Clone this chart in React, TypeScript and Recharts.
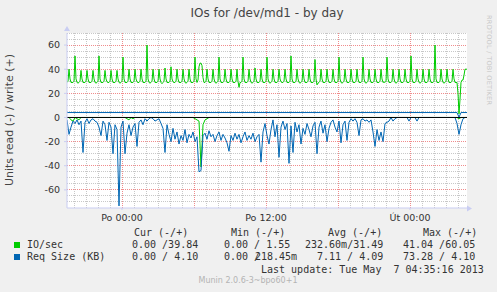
import React from 'react';
import { LineChart, Line, XAxis, YAxis, CartesianGrid, ReferenceLine } from 'recharts';

// time in minutes relative to "Po 00:00"
const START_MIN = -275;
const END_MIN = 1725;
const STEP_FINE = 5; // IO/sec write samples
const STEP_COARSE = 10; // other series samples

// IO/sec write (+), one sample every 5 minutes
const ioWrite = [
  29, 30, 40, 32, 29, 29,
  29, 30, 51, 32, 29, 28.5,
  29, 30, 39, 32, 29, 29,
  29, 30, 39, 32, 29, 29,
  29, 30, 39, 32, 29, 28.5,
  29, 30, 51, 32, 29, 29,
  29, 30, 39, 32, 29.5, 29,
  29, 30, 39, 32, 29, 29,
  29, 30, 39, 32, 29, 28.5,
  29, 30, 50, 32, 29, 29,
  29, 30, 40, 32, 29, 29,
  29, 30, 40, 32, 29.5, 29,
  29, 30, 40, 32, 29, 29,
  29, 30, 60, 32, 29, 28.5,
  29, 30, 40, 32, 29, 29,
  29, 30, 40, 32, 29, 28,
  29, 30, 41, 32, 29, 29,
  29, 30, 42, 32, 29.5, 29,
  29, 30, 40, 32, 29, 29,
  29, 30, 40, 32, 29, 28.5,
  29, 30, 40, 32, 29, 29,
  29, 30, 50, 32, 29, 31,
  42, 45, 45, 43, 33, 29,
  29, 30, 40, 32, 29, 29,
  29, 30, 40, 32, 29, 28.5,
  29, 30, 50, 32, 29, 29,
  29, 30, 40, 32, 29, 29,
  29, 30, 40, 32, 29, 29,
  29, 30, 40, 30, 25, 29,
  29, 30, 50, 32, 29, 29,
  29, 30, 40, 32, 29, 28.5,
  29, 30, 41, 32, 29, 29,
  29, 30, 40, 32, 29, 29,
  29, 30, 50, 32, 29, 28.5,
  29, 30, 40, 32, 29, 29,
  29, 30, 40, 32, 29.5, 29,
  29, 30, 40, 32, 29, 29,
  29, 30, 51, 32, 29, 29,
  29, 30, 40, 32, 29, 28.5,
  29, 30, 40, 32, 29, 29,
  29, 30, 40, 32, 29, 29,
  29, 30, 48, 32, 27, 28.5,
  29, 30, 40, 32, 29, 29,
  29, 30, 40, 32, 29, 29,
  29, 30, 40, 32, 29, 29,
  29, 30, 50, 32, 29, 28.5,
  29, 30, 40, 32, 29, 29,
  29, 30, 40, 32, 29, 29,
  29, 30, 40, 32, 29, 29,
  29, 30, 50, 32, 29, 28.5,
  29, 30, 40, 32, 29, 29,
  29, 30, 40, 32, 29, 29,
  29, 30, 40, 32, 29, 29.5,
  29, 30, 50, 32, 29, 29,
  29, 30, 40, 32, 29, 28.5,
  29, 30, 40, 32, 29, 29,
  29, 30, 40, 32, 29, 29,
  29, 30, 51, 32, 29, 29,
  29, 30, 40, 32, 29, 28.5,
  29, 30, 40, 32, 29, 29,
  29, 30, 40, 32, 29, 29,
  29, 30, 60, 32, 29, 29,
  29, 30, 40, 32, 29, 28.5,
  29, 30, 40, 32, 29, 29,
  29, 30, 40, 32, 29, 29,
  29, 20, 3, 15, 29, 31,
  31, 35, 40, 40, 40,
];

// IO/sec read (-), one sample every 10 minutes
const ioRead = [
  0, 0, 2, 3, 0, 1, 2, 0, 0, 0,
  0, 0, 0, 0, 0, 0, 0, 0, 0, 0,
  0, 0, 0, 0, 0, 0, 0, 0, 0, 0,
  1, 2, 0, 1, 0, 0, 0, 0, 0, 0,
  0, 0, 0, 0, 0, 0, 0, 0, 0, 0,
  0, 0, 0, 0, 0, 0, 0, 0, 0, 0,
  0, 0, 0, 0, 1, 2, 3, 41, 6, 2,
  1, 0, 0, 0, 0, 0, 0, 0, 0, 0,
  0, 0, 0, 0, 0, 0, 0, 0, 0, 0,
  0, 0, 0, 0, 0, 0, 0, 0, 0, 0,
  0, 0, 0, 0, 0, 0, 0, 0, 0, 0,
  0, 0, 0, 0, 0, 0, 0, 0, 0, 0,
  0, 0, 0, 0, 0, 0, 0, 0, 0, 0,
  0, 0, 0, 0, 0, 0, 0, 0, 0, 0,
  0, 0, 0, 0, 0, 0, 0, 0, 0, 0,
  0, 0, 0, 0, 0, 0, 0, 0, 0, 0,
  0, 0, 0, 0, 0, 0, 0, 0, 0, 0,
  0, 0, 0, 0, 0, 0, 0, 0, 0, 0,
  0, 0, 0, 0, 0, 0, 0, 0, 0, 0,
  0, 0, 0, 0, 0, 0, 1, 0, 0, 0,
  0,
];

// Req Size (KB) write (+), one sample every 10 minutes
const sizeWrite = [
  4.1, 4.1, 4.1, 4.1, 4.1, 4.1, 4.1, 4.1, 4.1, 4.1,
  4.1, 4.1, 4.1, 4.1, 4.1, 4.1, 4.1, 4.1, 4.1, 4.1,
  4.1, 4.1, 4.1, 4.1, 4.1, 4.1, 4.1, 4.1, 4.1, 4.1,
  4.1, 4.1, 4.1, 4.1, 4.1, 4.1, 4.1, 4.1, 4.1, 4.1,
  4.1, 4.1, 4.1, 4.1, 4.1, 4.1, 4.1, 4.1, 4.1, 4.1,
  4.1, 4.1, 4.1, 4.1, 4.1, 4.1, 4.1, 4.1, 4.1, 4.1,
  4.1, 4.1, 4.1, 4.1, 4.1, 4.1, 4.1, 4.1, 4.1, 4.1,
  4.1, 4.1, 4.1, 4.1, 4.1, 4.1, 4.1, 4.1, 4.1, 4.1,
  4.1, 4.1, 4.1, 4.1, 4.1, 4.1, 4.1, 4.1, 4.1, 4.1,
  4.1, 4.1, 4.1, 4.1, 4.1, 4.1, 4.1, 4.1, 4.1, 4.1,
  4.1, 4.1, 4.1, 4.1, 4.1, 4.1, 4.1, 4.1, 4.1, 4.1,
  4.1, 4.1, 4.1, 4.1, 4.1, 4.1, 4.1, 4.1, 4.1, 4.1,
  4.1, 4.1, 4.1, 4.1, 4.1, 4.1, 4.1, 4.1, 4.1, 4.1,
  4.1, 4.1, 4.1, 4.1, 4.1, 4.1, 4.1, 4.1, 4.1, 4.1,
  4.1, 4.1, 4.1, 4.1, 4.1, 4.1, 4.1, 4.1, 4.1, 4.1,
  4.1, 4.1, 4.1, 4.1, 4.1, 4.1, 4.1, 4.1, 4.1, 4.1,
  4.1, 4.1, 4.1, 4.1, 4.1, 4.1, 4.1, 4.1, 4.1, 4.1,
  4.1, 4.1, 4.1, 4.1, 4.1, 4.1, 4.1, 4.1, 4.1, 4.1,
  4.1, 4.1, 4.1, 4.1, 4.1, 4.1, 4.1, 4.1, 4.1, 4.1,
  4.1, 4.1, 4.1, 4.1, 4.1, 4.1, 0.22, 4.1, 4.1, 4.1,
  4.1,
];

// Req Size (KB) read (-), one sample every 10 minutes
const sizeRead = [
  2, 14, 8, 3, 5, 2, 6, 3, 29, 4,
  1, 5, 2, 1, 3, 4, 8, 15, 3, 6,
  19, 4, 8, 30, 6, 10, 73.3, 8, 3, 30,
  13, 6, 15, 8, 5, 24, 4, 2, 6, 1,
  3, 1, 0, 1, 3, 2, 1, 5, 9, 29,
  6, 14, 20, 9, 18, 12, 22, 15, 19, 10,
  21, 14, 17, 12, 20, 16, 45, 44, 15, 13,
  18, 11, 16, 14, 20, 15, 12, 19, 14, 17,
  21, 28, 15, 19, 13, 18, 14, 21, 16, 12,
  19, 15, 18, 13, 20, 16, 14, 37, 12, 5,
  15, 22, 10, 2, 16, 6, 33, 8, 3, 10,
  5, 38, 7, 29, 4, 12, 6, 22, 9, 14,
  5, 10, 16, 7, 4, 30, 8, 3, 13, 6,
  20, 9, 4, 2, 8, 12, 3, 21, 6, 3,
  19, 4, 1, 3, 1, 4, 15, 2, 1, 3,
  2, 4, 2, 12, 24, 10, 19, 12, 20, 5,
  4, 3, 0, 3, 1, 0, 0, 0, 0, 0,
  0, 3, 0, 0, 0, 3, 0, 0, 0, 0,
  0, 0, 0, 0, 0, 0, 0, 0, 0, 0,
  0, 0, 0, 0, 0, 5, 14, 6, 1, 0,
  0,
];

const xTicks = [0, 720, 1440];
const xTickLabels = ['Po 00:00', 'Po 12:00', 'Út 00:00'];
const yTicks = [-60, -40, -20, 0, 20, 40, 60];
const yMajorGrid = [-60, -40, -20, 20, 40, 60];
const yMinorGrid = [-70, -65, -55, -50, -45, -35, -30, -25, -15, -10, -5, 5, 10, 15, 25, 30, 35, 45, 50, 55, 65, 70];
const xMajorGrid = [0, 360, 720, 1080, 1440];
const xMinorGrid = [
  -240, -180, -120, -60, 60, 120, 180, 240, 300, 420, 480, 540, 600, 660,
  780, 840, 900, 960, 1020, 1140, 1200, 1260, 1320, 1380, 1500, 1560, 1620, 1680,
];

const legendHeaders = [
  { text: 'Cur (-/+)', x: 134 },
  { text: 'Min (-/+)', x: 231 },
  { text: 'Avg (-/+)', x: 328 },
  { text: 'Max (-/+)', x: 423 },
];
const legendRows = [
  { name: 'IO/sec', color: '#00CC00', cells: [['0.00 /39.84', 132], ['0.00 / 1.55', 224], ['232.60m/31.49', 305], ['41.04 /60.05', 403]] },
  { name: 'Req Size (KB)', color: '#0066B3', cells: [['0.00 / 4.10', 132], ['0.00 /', 224], ['218.45m', 255], ['7.11 / 4.09', 317], ['73.28 / 4.10', 403]] },
];

const fineData = ioWrite.map((v, j) => ({ t: START_MIN + STEP_FINE * j, ioW: v }));
const coarseData = sizeRead.map((v, i) => ({
  t: START_MIN + STEP_COARSE * i,
  ioR: -ioRead[i],
  szW: sizeWrite[i],
  szR: -v,
}));

const sans = "'DejaVu Sans', sans-serif";
const mono = "'DejaVu Sans Mono', monospace";
const axisColor = '#C9CDF2';
const minorColor = '#C8C8C8';
const majorColor = '#F08C8C';

export default function App() {
  const fmt = (v: number) => {
    const k = xTicks.indexOf(v);
    return k >= 0 ? xTickLabels[k] : '';
  };
  const textStyle = { position: 'absolute' as const, fontFamily: mono, fontSize: 10, lineHeight: '12px', color: '#333', whiteSpace: 'pre' as const };
  return (
    <div style={{ position: 'absolute', left: 0, top: 0, width: 497, height: 292, background: '#F0F0F0', overflow: 'hidden' }}>
      <div style={{ position: 'absolute', left: 67, width: 400, top: 6, textAlign: 'center', fontFamily: sans, fontSize: 12, lineHeight: '14px', color: '#444' }}>
        IOs for /dev/md1 - by day
      </div>
      <div style={{ position: 'absolute', left: 10, top: 120, width: 0, height: 0 }}>
        <div style={{ position: 'absolute', left: -100, top: -7, width: 200, textAlign: 'center', transform: 'rotate(-90deg)', fontFamily: sans, fontSize: 11, lineHeight: '14px', color: '#444', whiteSpace: 'nowrap' }}>
          Units read (-) / write (+)
        </div>
      </div>
      <div style={{ position: 'absolute', left: 485, top: 15, writingMode: 'vertical-rl', fontFamily: sans, fontSize: 6.5, color: '#C8C8C8', letterSpacing: 0.3 }}>
        RRDTOOL / TOBI OETIKER
      </div>
      <LineChart width={497} height={292} margin={{ top: 33, right: 30, bottom: 64, left: 0 }} style={{ position: 'absolute', left: 0, top: 0 }}>
        <CartesianGrid fill="#FFFFFF" stroke="transparent" horizontal={false} vertical={false} />
        <XAxis
          dataKey="t"
          type="number"
          domain={[START_MIN, END_MIN]}
          ticks={xTicks}
          tickFormatter={fmt}
          allowDataOverflow
          height={20}
          tickSize={2}
          tickMargin={4}
          axisLine={{ stroke: axisColor }}
          tickLine={{ stroke: axisColor }}
          tick={{ fill: '#333', fontSize: 9.5, fontFamily: sans }}
        />
        <YAxis
          type="number"
          domain={[-75, 70]}
          ticks={yTicks}
          allowDataOverflow
          width={67}
          tickSize={3}
          tickMargin={4}
          axisLine={{ stroke: axisColor }}
          tickLine={{ stroke: axisColor }}
          tick={{ fill: '#333', fontSize: 9.5, fontFamily: sans }}
        />
        {yMinorGrid.map((y) => (
          <ReferenceLine key={'ym' + y} y={y} stroke={minorColor} strokeDasharray="1 1" shapeRendering="crispEdges" />
        ))}
        {xMinorGrid.map((x) => (
          <ReferenceLine key={'xm' + x} x={x} stroke={minorColor} strokeDasharray="1 1" shapeRendering="crispEdges" />
        ))}
        {yMajorGrid.map((y) => (
          <ReferenceLine key={'yM' + y} y={y} stroke={majorColor} strokeDasharray="1 1" shapeRendering="crispEdges" />
        ))}
        {xMajorGrid.map((x) => (
          <ReferenceLine key={'xM' + x} x={x} stroke={majorColor} strokeDasharray="1 1" shapeRendering="crispEdges" />
        ))}
        <Line data={coarseData} type="linear" dataKey="ioR" stroke="#00CC00" strokeWidth={1} dot={false} isAnimationActive={false} />
        <Line data={coarseData} type="linear" dataKey="szR" stroke="#0066B3" strokeWidth={1} dot={false} isAnimationActive={false} />
        <Line data={coarseData} type="linear" dataKey="szW" stroke="#0066B3" strokeWidth={1} dot={false} isAnimationActive={false} />
        <Line data={fineData} type="linear" dataKey="ioW" stroke="#00CC00" strokeWidth={1} dot={false} isAnimationActive={false} />
        <ReferenceLine y={0} stroke="#000000" strokeWidth={1} />
      </LineChart>
      <svg width={497} height={292} style={{ position: 'absolute', left: 0, top: 0, pointerEvents: 'none' }}>
        <polygon points="64,31 70,31 67,26" fill={axisColor} />
        <polygon points="467,205.5 467,211.5 472,208.5" fill={axisColor} />
      </svg>
      {legendHeaders.map((h) => (
        <div key={h.text} style={{ ...textStyle, left: h.x, top: 227 }}>{h.text}</div>
      ))}
      {legendRows.map((r, ri) => (
        <React.Fragment key={r.name}>
          <div style={{ position: 'absolute', left: 14, top: 242 + ri * 12.3, width: 6, height: 6, background: r.color }} />
          <div style={{ ...textStyle, left: 27, top: 239 + ri * 12.3 }}>{r.name}</div>
          {r.cells.map(([txt, x]) => (
            <div key={String(txt) + x} style={{ ...textStyle, left: x as number, top: 239 + ri * 12.3 }}>{txt}</div>
          ))}
        </React.Fragment>
      ))}
      <div style={{ ...textStyle, left: 261, top: 264 }}>Last update: Tue May  7 04:35:16 2013</div>
      <div style={{ position: 'absolute', left: 148, width: 200, top: 276, textAlign: 'center', fontFamily: sans, fontSize: 8, lineHeight: '10px', color: '#B4B4B4' }}>
        Munin 2.0.6-3~bpo60+1
      </div>
    </div>
  );
}
